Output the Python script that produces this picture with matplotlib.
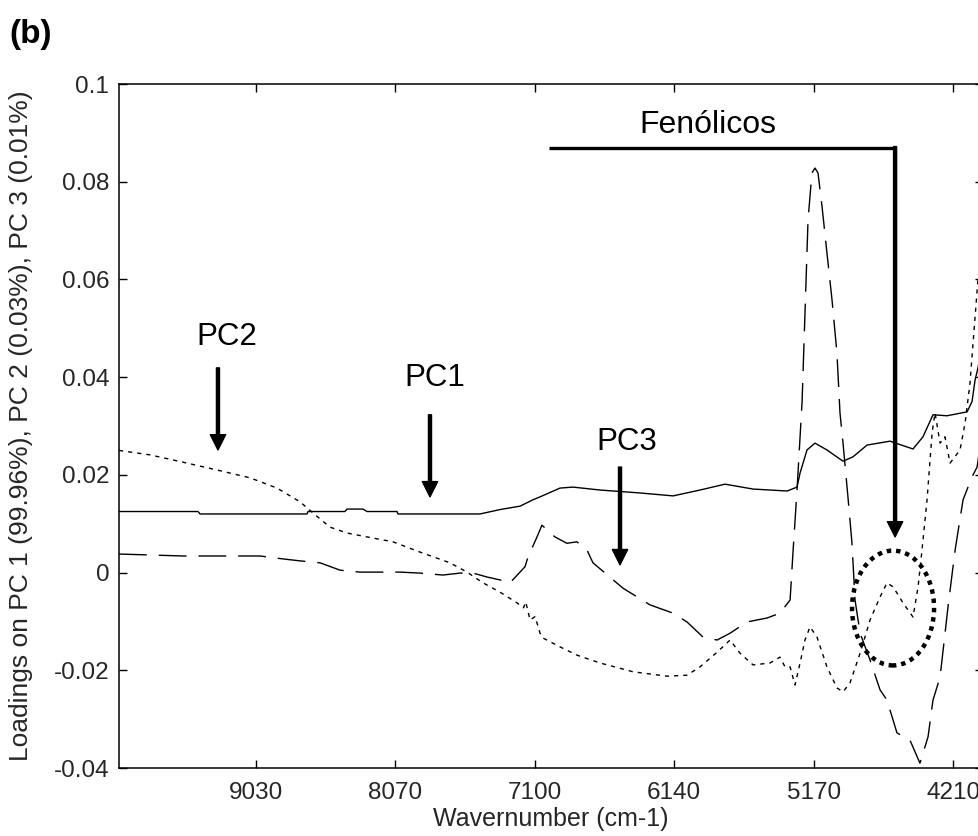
import matplotlib.pyplot as plt
from matplotlib.patches import Ellipse

plt.rcParams['font.family'] = ['Liberation Sans', 'DejaVu Sans']

# loadings (wavenumber, loading)
pc1_wn = [9977, 9431, 9417, 8677, 8670, 8415, 8401, 8290, 8262, 8055, 8048, 7481,
          7343, 7204, 7115, 7066, 6928, 6838, 6651, 6375, 6146, 5960, 5787, 5593,
          5358, 5289, 5268, 5220, 5165, 5082, 4971, 4902, 4805, 4646, 4487, 4418,
          4349, 4252, 4113, 4079, 4058, 4037, 4003]
pc1_val = [0.0125, 0.0125, 0.0120, 0.0120, 0.0125, 0.0125, 0.0130, 0.0130, 0.0125,
           0.0125, 0.0120, 0.0120, 0.0129, 0.0136, 0.0149, 0.0155, 0.0173, 0.0175,
           0.0169, 0.0163, 0.0157, 0.0169, 0.0181, 0.0171, 0.0167, 0.0175, 0.0204,
           0.0251, 0.0265, 0.0251, 0.0228, 0.0237, 0.0261, 0.0269, 0.0253, 0.0278,
           0.0323, 0.0321, 0.0329, 0.0350, 0.0394, 0.0420, 0.0480]

pc2_wn = [9977, 9763, 9535, 9300, 9071, 8885, 8726, 8636, 8518, 8401, 8262, 8083,
          7896, 7689, 7571, 7460, 7343, 7225, 7180, 7165, 7135, 7100, 7066, 7045,
          6928, 6810, 6651, 6423, 6188, 6050, 5960, 5842, 5752, 5683, 5593, 5476,
          5407, 5372, 5337, 5303, 5268, 5234, 5199, 5151, 5082, 5013, 4971, 4923,
          4853, 4784, 4715, 4667, 4625, 4556, 4487, 4452, 4425, 4390, 4355, 4335,
          4300, 4266, 4231, 4162, 4127, 4093, 4058, 4037, 4003]
pc2_val = [0.0250, 0.0241, 0.0226, 0.0210, 0.0194, 0.0173, 0.0145, 0.0122, 0.0093,
           0.0081, 0.0073, 0.0063, 0.0042, 0.0020, 0.0001, -0.0021, -0.0040, -0.0062,
           -0.0072, -0.0060, -0.0097, -0.0090, -0.0124, -0.0134, -0.0152, -0.0169,
           -0.0185, -0.0203, -0.0212, -0.0210, -0.0193, -0.0163, -0.0138, -0.0165,
           -0.0189, -0.0185, -0.0173, -0.0193, -0.0193, -0.0230, -0.0185, -0.0138,
           -0.0111, -0.0132, -0.0193, -0.0236, -0.0244, -0.0226, -0.0165, -0.0097,
           -0.0050, -0.0021, -0.0029, -0.0062, -0.0091, -0.0029, 0.0046, 0.0149,
           0.0286, 0.0327, 0.0265, 0.0278, 0.0224, 0.0251, 0.0306, 0.0388, 0.0523,
           0.0603, 0.0680]

pc3_wn = [9977, 9535, 9003, 8843, 8726, 8587, 8449, 8311, 8034, 7896, 7737, 7619,
          7529, 7433, 7343, 7274, 7170, 7149, 7087, 7053, 6963, 6880, 6811, 6741,
          6700, 6492, 6306, 6146, 6050, 5939, 5842, 5752, 5635, 5497, 5407, 5337,
          5316, 5289, 5254, 5234, 5213, 5186, 5165, 5144, 5116, 5082, 5047, 5013,
          4992, 4971, 4937, 4909, 4888, 4853, 4784, 4715, 4667, 4598, 4508, 4439,
          4383, 4349, 4300, 4245, 4196, 4141, 4079, 4044, 4003]
pc3_val = [0.0038, 0.0034, 0.0034, 0.0028, 0.0024, 0.0020, 0.0005, 0.0001, 0.0001,
           -0.0001, -0.0005, -0.0001, -0.0001, -0.0009, -0.0015, -0.0021, 0.0012,
           0.0032, 0.0073, 0.0097, 0.0073, 0.0060, 0.0063, 0.0046, 0.0020, -0.0032,
           -0.0066, -0.0083, -0.0101, -0.0132, -0.0138, -0.0124, -0.0101, -0.0093,
           -0.0083, -0.0056, 0.0046, 0.0169, 0.0350, 0.0531, 0.0721, 0.0818, 0.0828,
           0.0818, 0.0749, 0.0654, 0.0558, 0.0449, 0.0327, 0.0265, 0.0155, 0.0060,
           -0.0056, -0.0124, -0.0179, -0.0240, -0.0261, -0.0328, -0.0343, -0.0390,
           -0.0336, -0.0261, -0.0214, -0.0070, 0.0046, 0.0149, 0.0196, 0.0216, 0.0300]

x_ticks = [9030, 8070, 7100, 6140, 5170, 4210]
y_ticks = [-0.04, -0.02, 0, 0.02, 0.04, 0.06, 0.08, 0.1]
y_labels = ['-0.04', '-0.02', '0', '0.02', '0.04', '0.06', '0.08', '0.1']

fig = plt.figure(figsize=(9.79, 8.36), dpi=100)
ax = fig.add_axes([0.1216, 0.0813, 0.8825, 0.8182])

ax.plot(pc1_wn, pc1_val, color='k', lw=1.0)
ax.plot(pc2_wn, pc2_val, color='k', lw=1.0, linestyle=(0, (3, 3.6)))
ax.plot(pc3_wn, pc3_val, color='k', lw=1.0, linestyle=(0, (20, 8.6)))

ax.set_xlim(9977, 4003)
ax.set_ylim(-0.04, 0.1)
ax.set_xticks(x_ticks)
ax.set_xticklabels([str(t) for t in x_ticks])
ax.set_yticks(y_ticks)
ax.set_yticklabels(y_labels)
ax.tick_params(direction='in', length=6, width=1, top=True, right=True,
               labelsize=17.5, labelcolor='#262626', pad=7)
ax.tick_params(axis='x', pad=10)
for s in ax.spines.values():
    s.set_linewidth(1.1)
ax.set_xlabel('Wavernumber (cm-1)', fontsize=18, color='#262626', labelpad=2)
ax.set_ylabel('Loadings on PC 1 (99.96%), PC 2 (0.03%), PC 3 (0.01%)',
              fontsize=19, color='#262626', labelpad=15)

arrow = dict(facecolor='k', edgecolor='k', width=2.2, headwidth=11, headlength=11, shrink=0)
ax.annotate('', xy=(9293, 0.0251), xytext=(9293, 0.0419), arrowprops=arrow)
ax.text(9230, 0.0482, 'PC2', fontsize=22.5, ha='center', va='center')
ax.annotate('', xy=(7827, 0.0155), xytext=(7827, 0.0323), arrowprops=arrow)
ax.text(7792, 0.0398, 'PC1', fontsize=22.5, ha='center', va='center')
ax.annotate('', xy=(6513, 0.0016), xytext=(6513, 0.0216), arrowprops=arrow)
ax.text(6465, 0.0267, 'PC3', fontsize=22.5, ha='center', va='center')

# phenolic band bracket
ax.plot([7004, 4611], [0.0869, 0.0869], color='k', lw=2.4, solid_capstyle='butt')
ax.annotate('', xy=(4611, 0.0073), xytext=(4611, 0.0872), arrowprops=arrow)
ax.text(5904, 0.0916, 'Fenólicos', fontsize=23, ha='center', va='center')
ax.add_patch(Ellipse((4625, -0.00725), 567, 0.0235, fill=False, edgecolor='k',
                     lw=3.2, linestyle=(0, (1, 1.1))))

fig.text(0.031, 0.959, '(b)', fontsize=24, fontweight='bold', ha='center', va='center')

plt.savefig('out.png', dpi=100)
